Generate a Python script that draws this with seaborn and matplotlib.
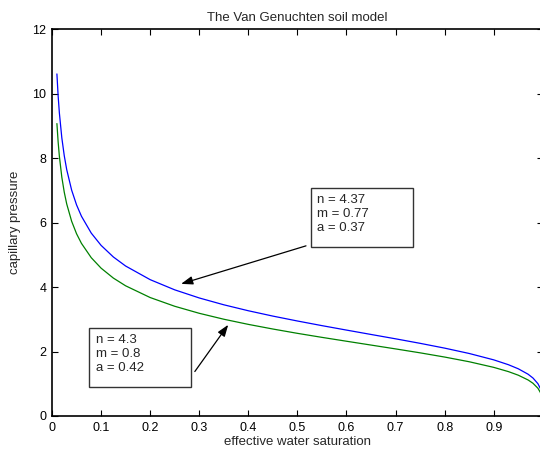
import matplotlib
matplotlib.use("Agg")
import matplotlib.pyplot as plt
import seaborn as sns
import pandas as pd
from matplotlib.patches import Rectangle

# ---- data ----
saturation = [0.01, 0.0125, 0.015, 0.02, 0.025, 0.03, 0.04, 0.05, 0.06, 0.08,
              0.1, 0.125, 0.15, 0.2, 0.25, 0.3, 0.35, 0.4, 0.45, 0.5,
              0.55, 0.6, 0.65, 0.7, 0.75, 0.8, 0.85, 0.9, 0.93, 0.95,
              0.97, 0.98, 0.99, 0.995, 0.998, 0.999, 0.9995, 0.9999]
pressure_blue = [10.615, 9.932, 9.406, 8.632, 8.074, 7.644, 7.010, 6.552, 6.199, 5.675,
                 5.295, 4.935, 4.654, 4.231, 3.915, 3.663, 3.451, 3.266, 3.100, 2.948,
                 2.804, 2.666, 2.530, 2.395, 2.255, 2.106, 1.940, 1.742, 1.591, 1.465,
                 1.2965, 1.178, 1.003, 0.855, 0.6925, 0.591, 0.504, 0.349]
pressure_green = [9.075, 8.503, 8.062, 7.411, 6.942, 6.579, 6.044, 5.656, 5.357, 4.912,
                  4.588, 4.280, 4.040, 3.676, 3.405, 3.187, 3.003, 2.843, 2.699, 2.565,
                  2.440, 2.320, 2.201, 2.082, 1.960, 1.829, 1.6835, 1.509, 1.377, 1.266,
                  1.118, 1.015, 0.862, 0.732, 0.591, 0.503, 0.428, 0.295]
label_blue = "n = 4.37\nm = 0.77\na = 0.37"
label_green = "n = 4.3\nm = 0.8\na = 0.42"
x_ticks = [0, 0.1, 0.2, 0.3, 0.4, 0.5, 0.6, 0.7, 0.8, 0.9]
x_ticklabels = ["0", "0.1", "0.2", "0.3", "0.4", "0.5", "0.6", "0.7", "0.8", "0.9"]
y_ticks = [0, 2, 4, 6, 8, 10, 12]

df_blue = pd.DataFrame({"S": saturation, "p": pressure_blue})
df_green = pd.DataFrame({"S": saturation, "p": pressure_green})

sns.set_style("ticks")
plt.rcParams["font.family"] = ["Liberation Sans", "DejaVu Sans"]

fig = plt.figure(figsize=(5.4, 4.53), dpi=100)
ax = fig.add_axes([0.0963, 0.0817, 0.9089, 0.8536])

sns.lineplot(data=df_blue, x="S", y="p", color="#0000ff", linewidth=0.9, ax=ax)
sns.lineplot(data=df_green, x="S", y="p", color="#008000", linewidth=0.9, ax=ax)

ax.set_xlim(0, 1)
ax.set_ylim(0, 12)
ax.set_xticks(x_ticks)
ax.set_xticklabels(x_ticklabels)
ax.set_yticks(y_ticks)
ax.tick_params(direction="in", length=4.5, width=0.8, top=True, right=True,
               labelsize=9, colors="black", pad=4)
for s in ax.spines.values():
    s.set_linewidth(1.2)
    s.set_color("black")

ax.set_title("The Van Genuchten soil model", fontsize=9.5, pad=6)
ax.set_xlabel("effective water saturation", fontsize=9.5, labelpad=2)
ax.set_ylabel("capillary pressure", fontsize=9.5, labelpad=8)

# text boxes
ax.add_patch(Rectangle((0.527, 5.23), 0.208, 1.84, fill=True, facecolor="white",
                       edgecolor="#333333", linewidth=1.0, zorder=4))
ax.text(0.540, 6.89, label_blue, fontsize=9.5, va="top", ha="left",
        linespacing=1.25, zorder=5)
ax.add_patch(Rectangle((0.076, 0.891), 0.207, 1.842, fill=True, facecolor="white",
                       edgecolor="#333333", linewidth=1.0, zorder=4))
ax.text(0.090, 2.55, label_green, fontsize=9.5, va="top", ha="left",
        linespacing=1.25, zorder=5)

arrow = dict(arrowstyle="-|>,head_length=0.7,head_width=0.25", color="black",
             linewidth=0.9, shrinkA=0, shrinkB=0)
ax.annotate("", xy=(0.263, 4.10), xytext=(0.5175, 5.28), arrowprops=arrow)
ax.annotate("", xy=(0.359, 2.83), xytext=(0.291, 1.38), arrowprops=arrow)

fig.savefig("out.png", dpi=100)
